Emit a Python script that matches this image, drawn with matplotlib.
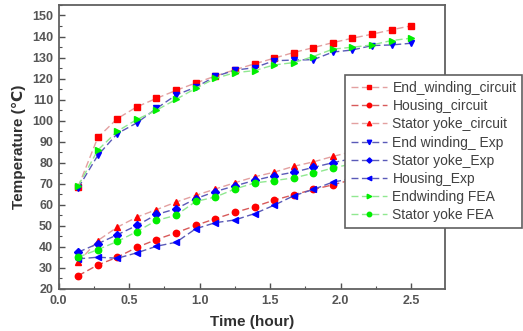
import matplotlib.pyplot as plt
from matplotlib.ticker import MultipleLocator

plt.rcParams["font.family"] = ["Liberation Sans", "DejaVu Sans"]

# time in hours (one sample every 500 s)
time_h = [0.139, 0.278, 0.417, 0.556, 0.694, 0.833, 0.972, 1.111, 1.25,
          1.389, 1.528, 1.667, 1.806, 1.944, 2.083, 2.222, 2.361, 2.5]

end_winding_circuit = [68.5, 92.0, 101.0, 106.6, 110.6, 114.4, 117.9, 121.2, 124.2,
                       127.0, 129.7, 132.4, 134.7, 137.1, 139.2, 141.1, 143.2, 145.1]
housing_circuit = [26.3, 31.4, 35.1, 39.8, 43.5, 46.7, 50.2, 53.4, 56.4,
                   59.1, 62.2, 64.8, 67.3, 69.5, 72.0, 74.0, 76.0, 78.0]
stator_yoke_circuit = [32.7, 43.0, 49.4, 54.2, 57.7, 61.3, 64.5, 67.5, 70.5,
                       73.3, 75.5, 78.3, 80.4, 83.0, 85.3, 87.5, 89.8, 92.0]
end_winding_exp = [68.0, 83.5, 93.9, 99.0, 105.8, 112.2, 115.9, 121.0, 124.0,
                   125.2, 128.5, 128.8, 129.0, 132.6, 133.6, 135.7, 136.0, 136.8]
stator_yoke_exp = [37.5, 41.5, 45.8, 50.2, 55.4, 58.1, 62.9, 66.3, 69.0,
                   71.6, 73.8, 75.5, 77.8, 80.0, 82.0, 84.0, 86.0, 88.0]
housing_exp = [34.3, 35.1, 34.6, 37.2, 40.3, 42.2, 48.6, 51.5, 52.8,
               55.8, 59.8, 64.3, 67.3, 70.8, 72.5, 74.5, 76.5, 78.5]
endwinding_fea = [69.0, 86.0, 95.0, 100.6, 105.0, 110.1, 115.4, 120.1, 122.8,
                  123.8, 126.5, 127.6, 130.5, 134.0, 134.9, 136.0, 138.1, 139.2]
stator_yoke_fea = [35.1, 38.7, 42.6, 47.3, 52.6, 55.0, 61.6, 63.7, 67.5,
                   70.4, 71.5, 72.8, 75.0, 77.5, 79.5, 81.5, 83.5, 85.5]

# (label, values, marker, line colour, marker colour)
series = [
    ("End_winding_circuit", end_winding_circuit, "s", "#e3a0a0", "#ff0000"),
    ("Housing_circuit", housing_circuit, "o", "#d85a5a", "#ff0000"),
    ("Stator yoke_circuit", stator_yoke_circuit, "^", "#e3a0a0", "#ff0000"),
    ("End winding_ Exp", end_winding_exp, "v", "#5a5ab8", "#0000ff"),
    ("Stator yoke_Exp", stator_yoke_exp, "D", "#5a5ab8", "#0000ff"),
    ("Housing_Exp", housing_exp, "<", "#5a5ab8", "#0000ff"),
    ("Endwinding FEA", endwinding_fea, ">", "#90e890", "#00ee00"),
    ("Stator yoke FEA", stator_yoke_fea, "o", "#90e890", "#00ee00"),
]

fig = plt.figure(figsize=(5.23, 3.31), dpi=100)
ax = fig.add_axes([0.112, 0.127, 0.739, 0.858])

for label, vals, marker, lc, mc in series:
    ms = 3.8 if marker == "D" else 4.6
    ax.plot(time_h, vals, linestyle=(0, (5, 2.5)), color=lc, linewidth=1.0,
            marker=marker, markersize=ms, markerfacecolor=mc, markeredgecolor=mc,
            label=label)

ax.set_xlim(0, 2.74)
ax.set_ylim(20, 155)
ax.xaxis.set_major_locator(MultipleLocator(0.5))
ax.xaxis.set_minor_locator(MultipleLocator(0.25))
ax.yaxis.set_minor_locator(MultipleLocator(5))
ax.set_yticks(range(20, 151, 10))
ax.tick_params(which="major", direction="in", length=4, width=1.0, colors="#505050",
               labelsize=9, labelcolor="#555555", pad=4)
ax.tick_params(which="minor", direction="in", length=2.5, width=0.8, colors="#505050")
for lbl in ax.get_xticklabels() + ax.get_yticklabels():
    lbl.set_fontweight("bold")
for sp in ax.spines.values():
    sp.set_color("#606060")
    sp.set_linewidth(1.3)

ax.set_xlabel("Time (hour)", fontsize=11, fontweight="bold", color="#303030", labelpad=6)
ax.set_ylabel("Temperature (\u2103)", fontsize=11, fontweight="bold", color="#303030")

leg = fig.legend(loc="upper left", bbox_to_anchor=(0.66, 0.772), fontsize=10,
                 frameon=True, fancybox=False, handlelength=2.6, labelspacing=0.3,
                 borderpad=0.4, handletextpad=0.4, borderaxespad=0, markerscale=0.7)
leg.get_frame().set_edgecolor("#606060")
leg.get_frame().set_linewidth(1.2)
leg.get_frame().set_alpha(1.0)
for txt in leg.get_texts():
    txt.set_color("#404040")

fig.savefig("out.png", dpi=100)
